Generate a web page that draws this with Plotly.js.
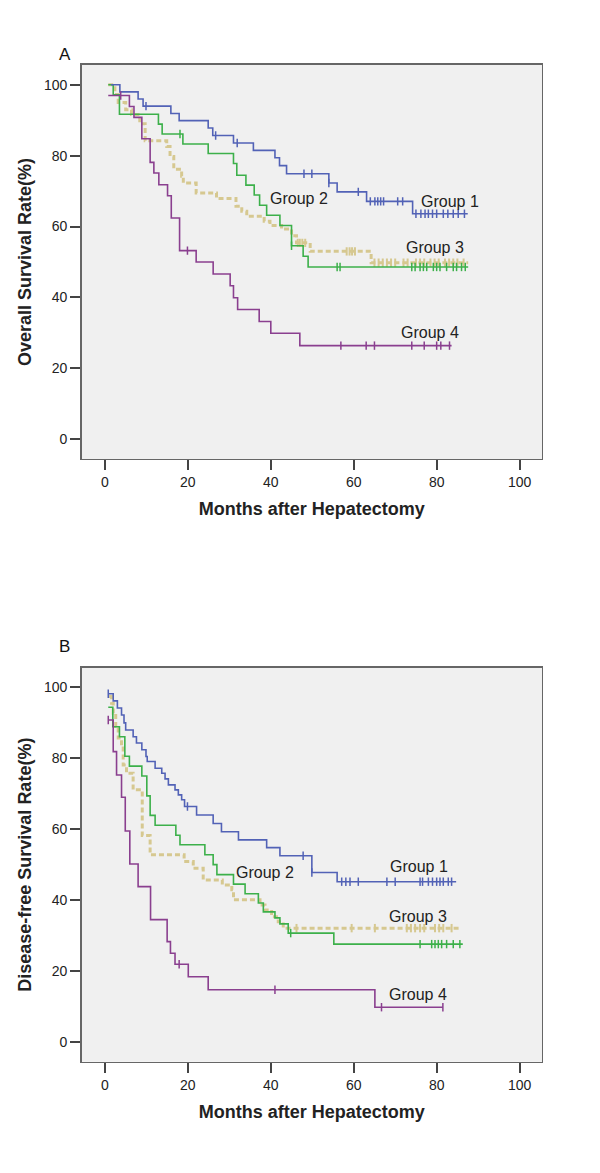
<!DOCTYPE html>
<html>
<head>
<meta charset="utf-8">
<script src="https://cdn.plot.ly/plotly-3.0.1.min.js"></script>
<style>html,body{margin:0;padding:0;background:#fff;}#chart{width:600px;height:1173px;}</style>
</head>
<body>
<div id="chart"></div>
<script>
// ---------- Data: Panel A (Overall survival) ----------
const groupNames = ["Group 1", "Group 2", "Group 3", "Group 4"];
const xTicks = [0, 20, 40, 60, 80, 100];
const yTicks = [0, 20, 40, 60, 80, 100];

const a1_t = [1.5, 3.6, 8.0, 9.2, 15.9, 17.9, 24.9, 26.0, 31.0, 35.8, 41.0, 42.1, 43.8, 54.0, 56.0, 63.1, 74.2, 87.5];
const a1_s = [100, 98.0, 96.0, 94.0, 91.9, 89.9, 87.8, 85.7, 83.6, 81.5, 79.4, 77.2, 74.9, 72.3, 69.8, 67.1, 63.6, 63.6];
const a1_c = [9.9, 26.7, 31.9, 48.0, 49.9, 54.0, 61.1, 64.0, 65.1, 65.8, 66.5, 67.2, 70.6, 71.8, 75.0, 76.2, 77.2, 78.0, 79.0, 80.0, 81.6, 82.7, 84.0, 85.2, 86.7];

const a2_t = [0.8, 2.0, 3.5, 12.9, 13.8, 18.8, 24.9, 31.0, 31.8, 34.0, 36.0, 37.3, 39.0, 42.2, 45.0, 47.8, 49.0, 87.6];
const a2_s = [100, 97.2, 91.7, 88.9, 86.1, 83.3, 80.6, 77.8, 74.5, 71.7, 68.9, 66.0, 63.2, 60.3, 54.6, 51.6, 48.6, 48.6];
const a2_c = [18.1, 45.0, 56.0, 56.7, 74.0, 74.8, 76.0, 76.8, 77.6, 79.2, 80.0, 80.8, 82.4, 84.0, 84.8, 86.0, 86.9];

const a3_t = [0.8, 2.4, 3.2, 5.0, 6.4, 8.4, 9.7, 14.9, 15.7, 16.6, 18.5, 18.9, 22.0, 26.9, 31.6, 33.0, 34.2, 38.4, 39.8, 42.6, 45.0, 46.2, 49.5, 64.2, 87.6];
const a3_s = [100, 97.3, 95.0, 93.0, 91.6, 89.0, 84.2, 82.6, 79.8, 76.2, 74.2, 72.3, 69.5, 67.9, 65.7, 64.3, 62.9, 61.5, 60.3, 59.3, 57.4, 55.4, 53.0, 49.8, 49.8];
const a3_c = [46.5, 47.0, 47.6, 48.3, 58.3, 59.0, 59.6, 60.3, 65.0, 66.0, 67.0, 68.0, 69.0, 70.0, 72.0, 73.0, 75.0, 76.0, 77.0, 78.5, 79.5, 80.5, 82.0, 83.0, 84.0, 85.0, 86.5];

const a4_t = [0.8, 5.9, 7.0, 8.9, 10.9, 11.8, 13.0, 15.1, 16.0, 18.0, 22.0, 26.1, 30.2, 31.0, 32.0, 37.2, 40.0, 47.0, 83.6];
const a4_s = [97.0, 93.9, 90.8, 84.8, 78.1, 75.1, 71.8, 68.7, 62.4, 53.2, 50.0, 46.6, 43.3, 39.9, 36.6, 33.2, 29.9, 26.4, 26.4];
const a4_c = [3.8, 19.9, 56.9, 63.0, 65.0, 74.0, 77.0, 80.0, 81.0, 83.1];

// ---------- Data: Panel B (Disease-free survival) ----------
const b1_t = [0.8, 2.0, 3.0, 4.0, 4.6, 5.0, 6.8, 7.6, 8.9, 9.9, 10.2, 12.1, 13.7, 14.5, 15.3, 16.9, 17.7, 18.5, 19.2, 22.1, 26.1, 28.1, 32.2, 39.0, 42.2, 49.9, 56.0, 84.7];
const b1_s = [98.2, 96.2, 94.2, 92.2, 90.0, 88.0, 86.1, 84.3, 82.4, 80.5, 79.1, 77.2, 75.8, 74.2, 72.5, 71.1, 69.7, 68.3, 66.4, 64.0, 61.6, 59.3, 57.0, 54.8, 52.5, 47.8, 45.2, 45.2];
const b1_c = [0.8, 19.9, 47.8, 49.9, 57.1, 58.1, 59.1, 61.1, 68.0, 70.0, 76.0, 76.6, 78.0, 79.0, 80.0, 80.8, 81.6, 82.8, 83.6];

const b2_t = [0.8, 1.9, 3.5, 4.8, 5.9, 8.9, 10.1, 10.9, 12.1, 17.1, 18.1, 24.1, 26.1, 27.0, 31.0, 33.8, 37.0, 38.2, 41.0, 42.2, 44.2, 55.2, 86.3];
const b2_s = [94.4, 88.9, 86.1, 80.6, 77.8, 75.0, 69.4, 63.9, 61.1, 58.3, 55.6, 52.8, 50.0, 47.2, 44.5, 41.8, 39.2, 36.7, 35.0, 33.3, 30.7, 27.6, 27.6];
const b2_c = [44.8, 76.0, 78.8, 79.6, 80.4, 81.2, 82.4, 84.0, 85.6];

const b3_t = [1.0, 1.6, 2.0, 2.6, 3.2, 4.0, 4.4, 5.2, 6.8, 9.0, 10.9, 19.1, 21.3, 23.7, 28.3, 30.6, 31.0, 37.4, 38.6, 40.2, 41.8, 43.0, 86.0];
const b3_s = [97.4, 95.5, 92.7, 89.0, 85.7, 82.9, 78.1, 75.8, 71.1, 58.2, 52.8, 50.9, 49.0, 45.7, 44.3, 42.9, 40.1, 38.6, 37.2, 35.3, 33.9, 32.1, 32.1];
const b3_c = [46.2, 59.5, 65.1, 72.8, 73.8, 74.8, 76.0, 77.0, 79.6, 80.6, 81.6, 83.6];

const b4_t = [0.8, 2.0, 2.8, 4.0, 4.9, 6.0, 8.0, 11.0, 15.0, 15.8, 16.9, 20.1, 24.9, 65.1, 81.5];
const b4_s = [90.8, 81.9, 75.3, 69.0, 59.5, 50.2, 43.8, 34.5, 28.3, 25.0, 21.9, 18.4, 14.7, 9.8, 9.8];
const b4_c = [0.8, 17.9, 41.0, 66.7, 81.5];

// ---------- Styling ----------
const colors = ["#5262b6", "#3cb04a", "#d6c890", "#8a3f8f"];
const FONT = "Liberation Sans, Arial, sans-serif";

function stepAt(ts, ss, t) {
  let v = ss[0];
  for (let i = 0; i < ts.length; i++) { if (ts[i] <= t + 1e-9) v = ss[i]; }
  return v;
}

function groupTraces(ts, ss, cs, gi, xa, ya) {
  const isDash = gi === 2;
  const line = {
    x: ts, y: ss, xaxis: xa, yaxis: ya, type: "scatter", mode: "lines",
    line: {shape: "hv", color: colors[gi], width: isDash ? 3 : 1.6, dash: isDash ? "5px,3px" : "solid"},
    name: groupNames[gi], showlegend: false, hoverinfo: "skip"
  };
  const cens = {
    x: cs, y: cs.map(t => stepAt(ts, ss, t)), xaxis: xa, yaxis: ya, type: "scatter", mode: "markers",
    marker: {symbol: "line-ns-open", size: 6, line: {color: colors[gi], width: isDash ? 2 : 1.5}, color: colors[gi]},
    showlegend: false, hoverinfo: "skip"
  };
  return [line, cens];
}

const data = [].concat(
  groupTraces(a3_t, a3_s, a3_c, 2, "x", "y"),
  groupTraces(a2_t, a2_s, a2_c, 1, "x", "y"),
  groupTraces(a1_t, a1_s, a1_c, 0, "x", "y"),
  groupTraces(a4_t, a4_s, a4_c, 3, "x", "y"),
  groupTraces(b3_t, b3_s, b3_c, 2, "x2", "y2"),
  groupTraces(b2_t, b2_s, b2_c, 1, "x2", "y2"),
  groupTraces(b1_t, b1_s, b1_c, 0, "x2", "y2"),
  groupTraces(b4_t, b4_s, b4_c, 3, "x2", "y2")
);

function xAxis(anchor) {
  return {
    domain: [0.1362, 0.9033], anchor: anchor, range: [-5.6, 105.4],
    tickvals: xTicks, ticktext: xTicks.map(String), ticks: "outside", ticklen: 10, tickwidth: 2, tickcolor: "#444",
    showline: true, mirror: true, linecolor: "#666", linewidth: 1.5, zeroline: false, showgrid: false,
    tickfont: {family: FONT, size: 14, color: "#222"},
    title: {text: "Months after Hepatectomy", font: {family: FONT, size: 18, color: "#222", weight: 700}, standoff: 13}
  };
}
function yAxis(anchor, domain, title) {
  return {
    domain: domain, anchor: anchor, range: [-5.6, 105.6],
    tickvals: yTicks, ticktext: yTicks.map(String), ticks: "outside", ticklen: 10, tickwidth: 2, tickcolor: "#444",
    showline: true, mirror: true, linecolor: "#666", linewidth: 1.5, zeroline: false, showgrid: false,
    tickfont: {family: FONT, size: 14, color: "#222"},
    title: {text: title, font: {family: FONT, size: 18, color: "#222", weight: 700}, standoff: 8}
  };
}

function lab(text, x, y, xr, yr) {
  return {text: text, x: x, y: y, xref: xr, yref: yr, showarrow: false,
    font: {family: FONT, size: 16, color: "#222"}, xanchor: "center", yanchor: "middle"};
}

const layout = {
  width: 600, height: 1173,
  margin: {l: 0, r: 0, t: 0, b: 0},
  paper_bgcolor: "#ffffff", plot_bgcolor: "#f0f0f0",
  showlegend: false,
  xaxis: xAxis("y"),
  yaxis: yAxis("x", [0.6087, 0.9446], "Overall Survival Rate(%)"),
  xaxis2: xAxis("y2"),
  yaxis2: yAxis("x2", [0.0948, 0.4309], "Disease-free Survival Rate(%)"),
  annotations: [
    {text: "A", x: 0.0945, y: 0.9636, xref: "paper", yref: "paper", showarrow: false, font: {family: FONT, size: 17, color: "#111"}},
    {text: "B", x: 0.0945, y: 0.4487, xref: "paper", yref: "paper", showarrow: false, font: {family: FONT, size: 17, color: "#111"}},
    lab(groupNames[0], 83.2, 67.0, "x", "y"),
    lab(groupNames[1], 46.8, 67.9, "x", "y"),
    lab(groupNames[2], 79.6, 54.0, "x", "y"),
    lab(groupNames[3], 78.4, 30.0, "x", "y"),
    lab(groupNames[0], 75.8, 49.4, "x2", "y2"),
    lab(groupNames[1], 38.6, 47.7, "x2", "y2"),
    lab(groupNames[2], 75.5, 35.5, "x2", "y2"),
    lab(groupNames[3], 75.5, 13.5, "x2", "y2")
  ]
};

Plotly.newPlot("chart", data, layout, {staticPlot: true, displayModeBar: false});
</script>
</body>
</html>
